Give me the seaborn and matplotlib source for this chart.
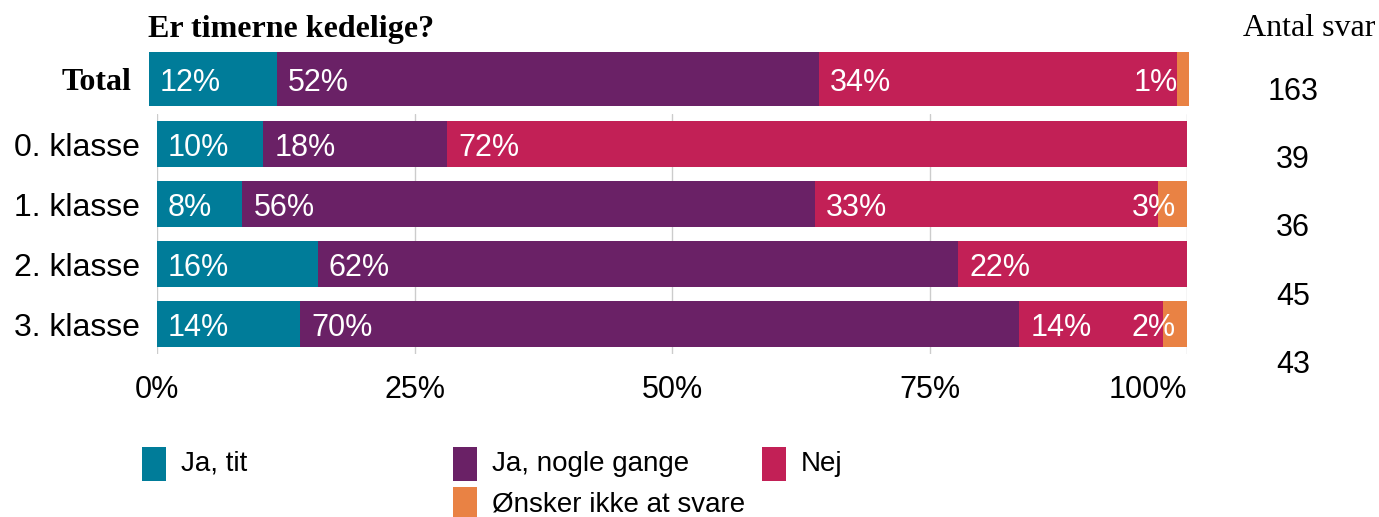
import numpy as np
import pandas as pd
import matplotlib.pyplot as plt
import seaborn as sns
from matplotlib.patches import Rectangle

# --- data ---
klasser = ["0. klasse", "1. klasse", "2. klasse", "3. klasse"]
svar = ["Ja, tit", "Ja, nogle gange", "Nej", "Ønsker ikke at svare"]
ja_tit = [10.3, 8.3, 15.6, 13.9]
ja_nogle = [17.9, 55.6, 62.2, 69.8]
nej = [71.8, 33.3, 22.2, 14.0]
onsker = [0.0, 2.8, 0.0, 2.3]
total = [12.3, 52.1, 34.4, 1.2]
antal_svar = [163, 39, 36, 45, 43]
farver = ["#007C99", "#6A2166", "#C22056", "#E98244"]
ticks = [0, 25, 50, 75, 100]
tick_labels = ["0%", "25%", "50%", "75%", "100%"]

sns.set_style("white")
plt.rcParams['font.family'] = ['Liberation Sans', 'DejaVu Sans']
plt.rcParams['text.color'] = 'black'
plt.rcParams['xtick.color'] = 'black'
plt.rcParams['ytick.color'] = 'black'
SANS = 22
SERIF = ['Liberation Serif', 'DejaVu Serif']

W, H = 1379, 517
fig = plt.figure(figsize=(W / 100, H / 100), dpi=100)


def px_box(x0, y0, x1, y1):
    # pixel box (top-left origin) -> figure fraction
    return [x0 / W, 1 - y1 / H, (x1 - x0) / W, (y1 - y0) / H]


ax = fig.add_axes(px_box(157, 114, 1187, 354))
ax_tot = fig.add_axes(px_box(149, 52, 1189, 106))
ax_n = fig.add_axes(px_box(1250, 54, 1336, 396))

df = pd.DataFrame({"klasse": klasser, svar[0]: ja_tit, svar[1]: ja_nogle,
                   svar[2]: nej, svar[3]: onsker})
df_tot = pd.DataFrame({"klasse": ["Total"], svar[0]: [total[0]], svar[1]: [total[1]],
                       svar[2]: [total[2]], svar[3]: [total[3]]})


def stacked(axis, data, width):
    cum = data[svar].cumsum(axis=1)
    # draw the cumulative bars from the longest to the shortest
    for i in reversed(range(len(svar))):
        sns.barplot(x=cum[svar[i]], y=data["klasse"], orient='h', color=farver[i],
                    saturation=1, width=width, linewidth=0, ax=axis)
    for j in range(len(data)):
        for i, s in enumerate(svar):
            v = data[s].iloc[j]
            if v <= 0:
                continue
            end = cum[s].iloc[j]
            if i == len(svar) - 1:
                axis.annotate(f"{round(v)}%", (end, j), xytext=(-8, -3),
                              textcoords='offset points', ha='right', va='center',
                              color='white', fontsize=SANS, annotation_clip=False)
            else:
                axis.annotate(f"{round(v)}%", (end - v, j), xytext=(8, -3),
                              textcoords='offset points', ha='left', va='center',
                              color='white', fontsize=SANS, annotation_clip=False)
    axis.set_xlim(0, 100)
    axis.set_xlabel("")
    axis.set_ylabel("")
    for sp in axis.spines.values():
        sp.set_visible(False)


stacked(ax, df, 0.78)
ax.set_ylim(3.5, -0.5)
ax.set_xticks(ticks)
ax.set_xticklabels(tick_labels, fontsize=SANS)
ax.get_xticklabels()[-1].set_ha('right')
ax.tick_params(axis='x', length=0, pad=15)
ax.tick_params(axis='y', length=0, pad=12, labelsize=23)
for t in ax.get_yticklabels():
    t.set_va('center_baseline')
ax.grid(axis='x', color='#cccccc', linewidth=1)
ax.set_axisbelow(True)

stacked(ax_tot, df_tot, 1.0)
ax_tot.set_ylim(0.5, -0.5)
ax_tot.set_xticks([])
ax_tot.tick_params(axis='y', length=0, pad=13)
for t in ax_tot.get_yticklabels():
    t.set_fontfamily(SERIF)
    t.set_fontweight('bold')
    t.set_fontsize(23)
    t.set_va('center_baseline')

# antal svar column
ax_n.set_xlim(0, 1)
ax_n.set_ylim(len(antal_svar) - 0.5, -0.5)
ax_n.axis('off')
for i, n in enumerate(antal_svar):
    ax_n.text(0.5, i, str(n), ha='center', va='center_baseline', fontsize=SANS)

fig.text(148 / W, 1 - 29 / H, "Er timerne kedelige?", family=SERIF, fontweight='bold',
         fontsize=23, ha='left', va='center')
fig.text(1309 / W, 1 - 29 / H, "Antal svar", family=SERIF, fontsize=23,
         ha='center', va='center')

# legend, laid out like the original
leg_pos = [(142, 447), (453, 447), (762, 447), (453, 487)]
for (x0, y0), lab, c in zip(leg_pos, svar, farver):
    fig.add_artist(Rectangle((x0 / W, 1 - (y0 + 34) / H), 24 / W, 34 / H,
                             transform=fig.transFigure, color=c, lw=0))
    fig.text((x0 + 39) / W, 1 - (y0 + 17) / H, lab, fontsize=20, ha='left', va='center')

fig.savefig("out.png", dpi=100)
